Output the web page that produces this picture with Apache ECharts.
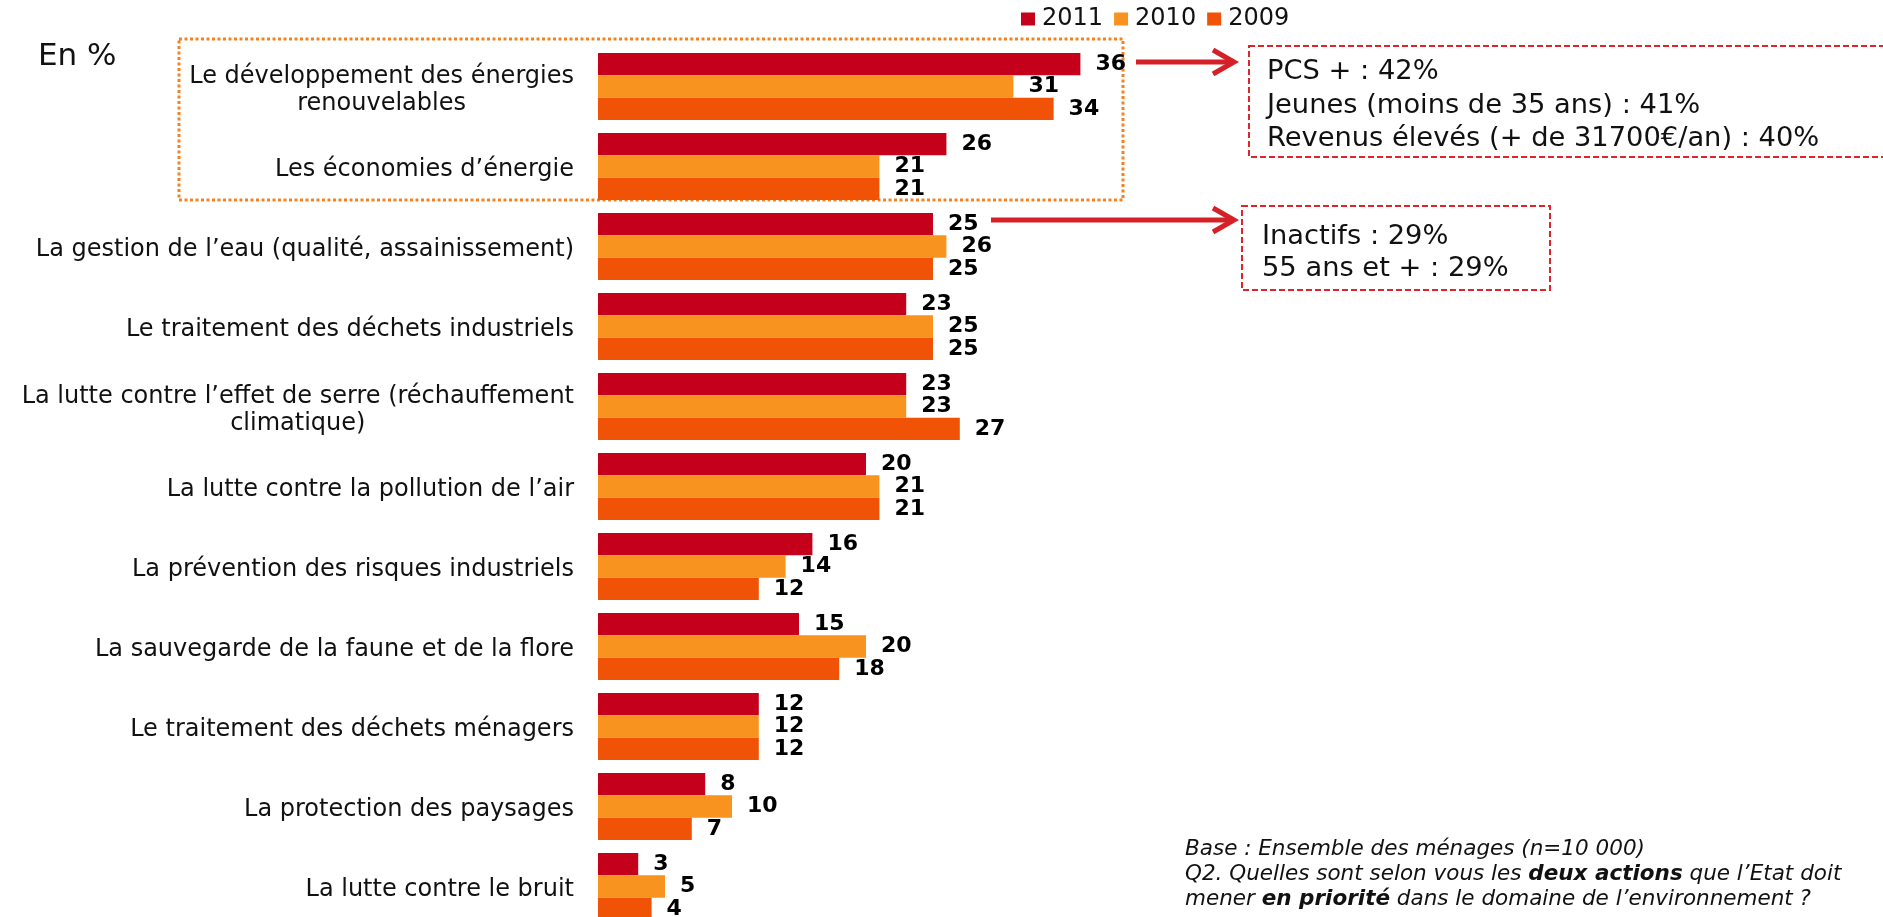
<!DOCTYPE html>
<html><head><meta charset="utf-8">
<script src="https://cdn.jsdelivr.net/npm/echarts@6/dist/echarts.min.js"></script>
<style>html,body{margin:0;padding:0;background:#fff}#c{width:1883px;height:917px}</style>
</head><body><div id="c"></div>
<script>
const categories = [
  "Le développement des énergies\nrenouvelables",
  "Les économies d’énergie",
  "La gestion de l’eau (qualité, assainissement)",
  "Le traitement des déchets industriels",
  "La lutte contre l’effet de serre (réchauffement\nclimatique)",
  "La lutte contre la pollution de l’air",
  "La prévention des risques industriels",
  "La sauvegarde de la faune et de la flore",
  "Le traitement des déchets ménagers",
  "La protection des paysages",
  "La lutte contre le bruit"
];
const seriesNames = ["2011", "2010", "2009"];
const v2011 = [36, 26, 25, 23, 23, 20, 16, 15, 12, 8, 3];
const v2010 = [31, 21, 26, 25, 23, 21, 14, 20, 12, 10, 5];
const v2009 = [34, 21, 25, 25, 27, 21, 12, 18, 12, 7, 4];
const note1 = ["PCS + : 42%", "Jeunes (moins de 35 ans) : 41%", "Revenus élevés (+ de 31700€/an) : 40%"];
const note2 = ["Inactifs : 29%", "55 ans et + : 29%"];

const FONT = '"DejaVu Sans", Verdana, sans-serif';
const colors = ['#C4001A', '#F7931E', '#F05206'];
const chart = echarts.init(document.getElementById('c'), null, {renderer: 'canvas'});

function barSeries(name, data, color) {
  return {
    name: name, type: 'bar', data: data,
    barGap: '0%', barCategoryGap: '16%',
    itemStyle: {color: color},
    label: {show: true, position: 'right', distance: 15, color: '#000', fontFamily: FONT, fontWeight: 'bold', fontSize: 22, padding: [5, 0, 0, 0]},
    emphasis: {disabled: true}
  };
}

function textEl(x, y, text, size, extra) {
  return {
    type: 'text', x: x, y: y,
    style: Object.assign({text: text, fill: '#111', font: size + 'px ' + FONT, textVerticalAlign: 'middle'}, extra || {})
  };
}

const redLine = '#D42027';
const graphics = [
  textEl(38, 57, 'En %', 31),
  {type: 'rect', shape: {x: 179, y: 39, width: 944, height: 161},
   style: {fill: 'none', stroke: '#F58220', lineWidth: 3, lineDash: [3, 2.5]}},
  {type: 'line', shape: {x1: 1136, y1: 62, x2: 1232, y2: 62}, style: {stroke: redLine, lineWidth: 5}},
  {type: 'polyline', shape: {points: [[1213, 50], [1234, 62], [1213, 74]]}, style: {stroke: redLine, lineWidth: 5, fill: 'none'}},
  {type: 'line', shape: {x1: 991, y1: 220, x2: 1232, y2: 220}, style: {stroke: redLine, lineWidth: 5}},
  {type: 'polyline', shape: {points: [[1213, 208], [1234, 220], [1213, 232]]}, style: {stroke: redLine, lineWidth: 5, fill: 'none'}},
  {type: 'rect', shape: {x: 1249, y: 46, width: 700, height: 111},
   style: {fill: 'none', stroke: '#E0242B', lineWidth: 2, lineDash: [6, 3]}},
  {type: 'rect', shape: {x: 1242, y: 206, width: 308, height: 84},
   style: {fill: 'none', stroke: '#E0242B', lineWidth: 2, lineDash: [6, 3]}},
  textEl(1267, 72, note1[0], 27.3),
  textEl(1267, 106, note1[1], 27.3),
  textEl(1267, 139, note1[2], 27.3),
  textEl(1262, 237, note2[0], 27.3),
  textEl(1262, 269, note2[1], 27.3),
  {type: 'text', x: 1185, y: 837,
   style: {
     text: '{i|Base : Ensemble des ménages (n=10 000)}\n{i|Q2. Quelles sont selon vous les }{b|deux actions}{i| que l’Etat doit}\n{i|mener }{b|en priorité}{i| dans le domaine de l’environnement ?}',
     fill: '#111',
     font: 'italic 21.5px ' + FONT,
     rich: {
       i: {fontStyle: 'italic', fontSize: 21.5, fontFamily: FONT, lineHeight: 25, fill: '#111', color: '#111'},
       b: {fontStyle: 'italic', fontWeight: 'bold', fontSize: 21.5, fontFamily: FONT, lineHeight: 25, fill: '#111', color: '#111'}
     }
   }}
];

chart.setOption({
  animation: false,
  backgroundColor: '#fff',
  legend: {
    data: seriesNames, left: 1021, top: 6, padding: 0,
    icon: 'rect', itemWidth: 14, itemHeight: 13, itemGap: 11,
    selectedMode: false,
    textStyle: {fontFamily: FONT, fontSize: 24, color: '#111', padding: [0, 0, 0, 2], lineHeight: 26}
  },
  grid: {left: 598, top: 46.5, width: 536, height: 880, containLabel: false, outerBoundsMode: 'none'},
  xAxis: {type: 'value', min: 0, max: 40, show: false},
  yAxis: {
    type: 'category', data: categories, inverse: true,
    axisLine: {show: false}, axisTick: {show: false}, splitLine: {show: false},
    axisLabel: {
      margin: 24, color: '#111', fontFamily: FONT, fontSize: 24, lineHeight: 27, align: 'right',
      padding: [7, 0, 0, 0],
      formatter: function (v) {
        if (v.indexOf('\n') < 0) return v;
        return v.split('\n').map(function (l) { return '{c|' + l + '}'; }).join('\n');
      },
      rich: {c: {align: 'center', fontFamily: FONT, fontSize: 24, lineHeight: 27, color: '#111'}}
    }
  },
  series: [
    barSeries(seriesNames[0], v2011, colors[0]),
    barSeries(seriesNames[1], v2010, colors[1]),
    barSeries(seriesNames[2], v2009, colors[2])
  ],
  graphic: graphics
});
</script></body></html>
